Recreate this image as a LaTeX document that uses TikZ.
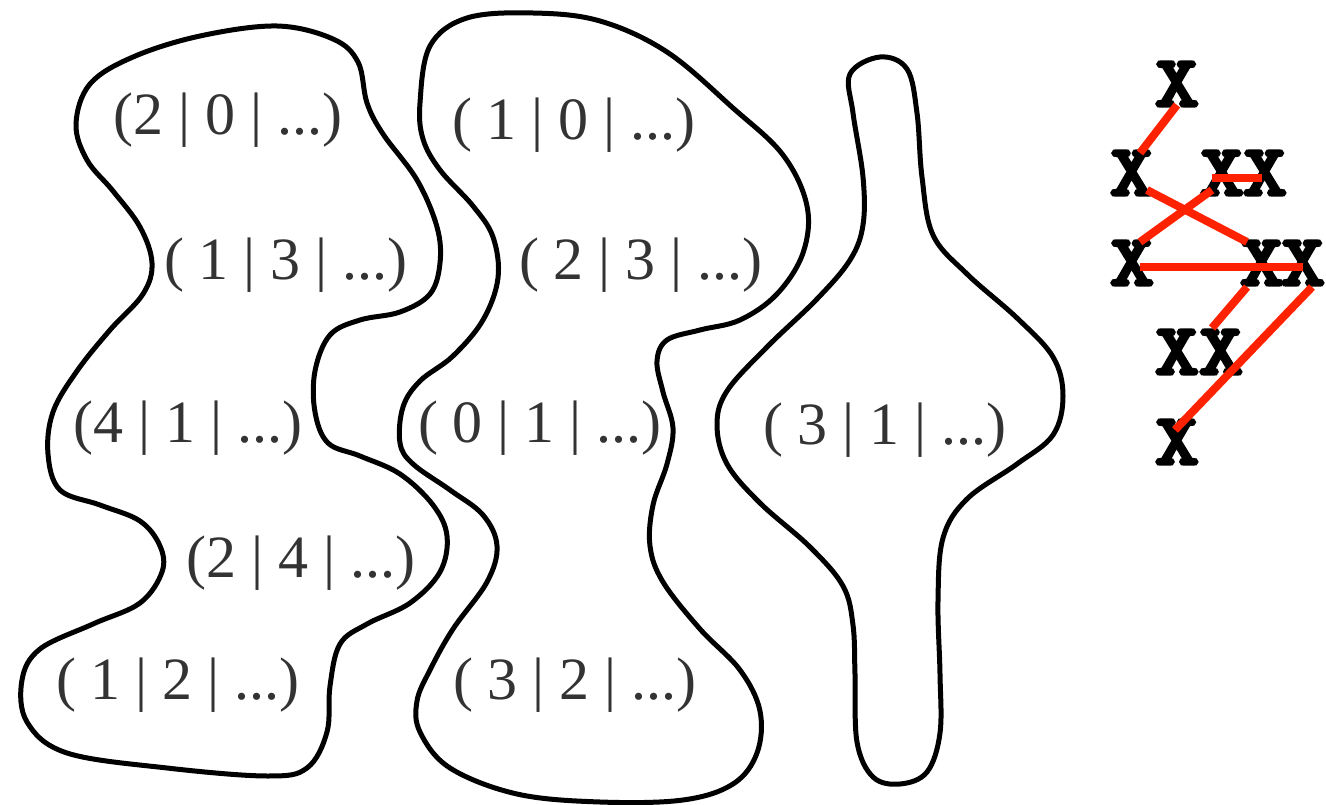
\documentclass[tikz,border=0pt]{standalone}
\usepackage{fontspec}
\usepackage{graphicx}
\setmainfont{Liberation Serif}
\newfontfamily\xfont{lmmonolt10-bold}[Extension=.otf, FakeBold=3]
\usetikzlibrary{calc}
\definecolor{linkred}{HTML}{FF2200}
\definecolor{labelgray}{HTML}{333333}
\newcommand{\bigx}{\scalebox{1.16}[1]{X}}
\tikzset{
  blob/.style={draw=black, line width=5pt, smooth cycle, tension=0.6},
  tuple/.style={inner sep=0pt, text=labelgray, font=\fontsize{60}{62}\selectfont},
  xmark/.style={inner sep=0pt, text=black, font=\xfont\fontsize{74}{74}\selectfont},
  link/.style={draw=linkred, line width=8pt}
}
\begin{document}
\begin{tikzpicture}[x=1pt,y=-1pt]
\useasboundingbox (0,0) rectangle (1326,805);
% left blob
\draw[blob] plot coordinates {
 (76,124) (90,84) (133,57) (200,36) (277,26) (333,39) (358,62) (367,103)
 (383,134) (417,180) (437,227) (440,263) (430,294) (400,312) (360,320)
 (330,335) (315,371) (315,412) (328,443) (360,456) (400,474) (433,505)
 (447,536) (440,572) (410,603) (367,624) (340,644) (330,686) (327,732)
 (307,768) (267,776) (167,768) (67,753) (27,722) (22,680) (40,649)
 (93,624) (140,603) (162,572) (160,546) (140,521) (100,505) (60,490)
 (48,454) (53,412) (77,371) (110,330) (143,294) (152,263) (140,227)
 (113,191) (87,160)};
% middle blob
\draw[blob] plot coordinates {
 (420,103) (430,46) (467,18) (533,13) (600,21) (667,52) (733,108) (783,155)
 (807,206) (803,253) (777,294) (740,320) (700,330) (667,340) (657,361)
 (663,392) (673,428) (667,464) (653,505) (650,546) (663,582) (700,629)
 (740,670) (760,711) (757,753) (733,784) (683,800) (600,802) (517,794)
 (450,768) (420,732) (417,701) (430,670) (453,629) (487,582) (497,546)
 (483,515) (450,490) (413,464) (400,443) (403,407) (420,381) (453,356)
 (483,320) (498,278) (493,237) (473,206) (440,170) (423,139)};
% right blob
\draw[blob] plot coordinates {
 (880,57) (907,69) (917,113) (922,177) (933,235) (967,274) (1017,318)
 (1053,357) (1063,396) (1053,435) (1017,464) (967,499) (943,538) (938,601)
 (940,674) (940,733) (927,772) (900,784) (873,777) (857,742) (855,674)
 (853,625) (843,586) (810,547) (760,503) (727,464) (717,425) (727,391)
 (767,347) (817,299) (850,260) (863,225) (863,177) (853,113) (850,74)};
% labels
\node[tuple] (t20) at (228,120) {(2 | 0 | ...)};
\node[tuple] (t13) at (286,265) {( 1 | 3 | ...)};
\node[tuple] (t41) at (188,428) {(4 | 1 | ...)};
\node[tuple] (t24) at (301,563) {(2 | 4 | ...)};
\node[tuple] (t12) at (178,685) {( 1 | 2 | ...)};
\node[tuple] (t10) at (574,125) {( 1 | 0 | ...)};
\node[tuple] (t23) at (641,265) {( 2 | 3 | ...)};
\node[tuple] (t01) at (540,428) {( 0 | 1 | ...)};
\node[tuple] (t32) at (575,685) {( 3 | 2 | ...)};
\node[tuple] (t31) at (885,430) {( 3 | 1 | ...)};
% X marks
\node[xmark] (x1)  at (1177,84)  {\bigx};
\node[xmark] (x21) at (1132,173) {\bigx};
\node[xmark] (x22) at (1222,173) {\bigx};
\node[xmark] (x23) at (1265,173) {\bigx};
\node[xmark] (x31) at (1132,263) {\bigx};
\node[xmark] (x32) at (1262,263) {\bigx};
\node[xmark] (x33) at (1303,263) {\bigx};
\node[xmark] (x41) at (1177,352) {\bigx};
\node[xmark] (x42) at (1221,352) {\bigx};
\node[xmark] (x5)  at (1177,442) {\bigx};
% red links
\draw[link] ($(x1)+(0,21)$) -- ($(x21)+(8,-20)$);
\draw[link] ($(x22)+(-10,5)$) -- ($(x23)+(-3,5)$);
\draw[link] ($(x21)+(15,17)$) -- ($(x32)+(-15,-21)$);
\draw[link] ($(x31)+(8,-21)$) -- ($(x22)+(-10,17)$);
\draw[link] ($(x31)+(8,4)$) -- ($(x33)+(0,4)$);
\draw[link] ($(x32)+(-15,24)$) -- ($(x42)+(-9,-24)$);
\draw[link] ($(x33)+(9,24)$) -- ($(x5)+(-2,-12)$);
\end{tikzpicture}
\end{document}
